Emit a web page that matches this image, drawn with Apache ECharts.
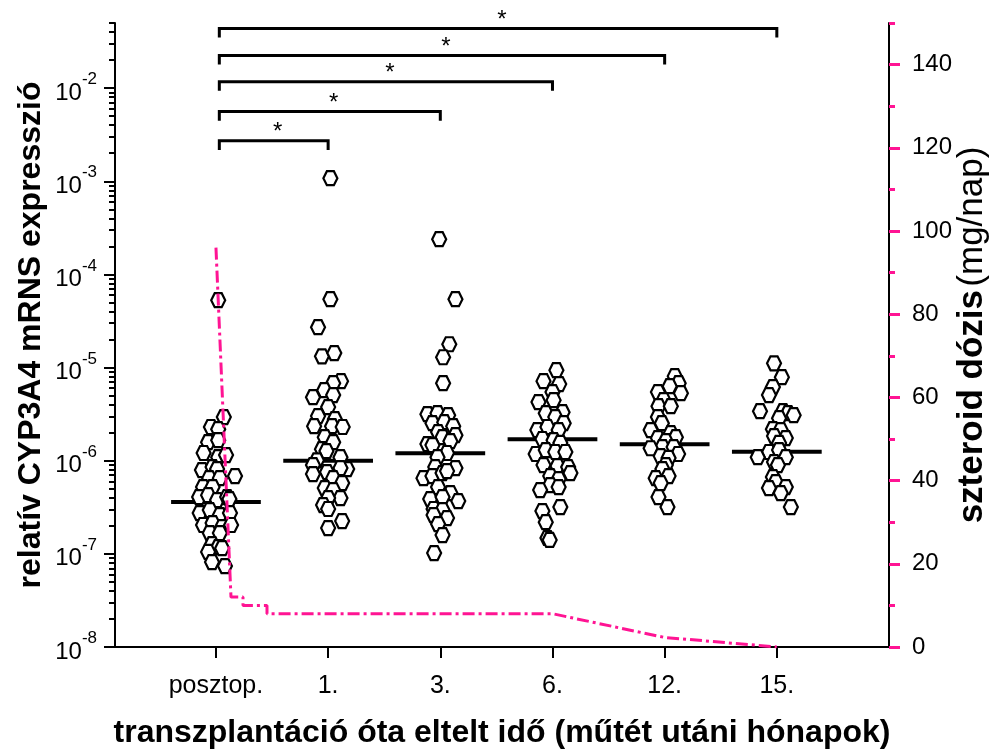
<!DOCTYPE html>
<html>
<head>
<meta charset="utf-8">
<script src="https://cdn.jsdelivr.net/npm/echarts@6/dist/echarts.min.js"></script>
<style>
  html, body { margin: 0; padding: 0; background: #fff; }
  #chart { width: 999px; height: 749px; }
</style>
</head>
<body>
<div id="chart"></div>
<script>
const groups = ['posztop.', '1.', '3.', '6.', '12.', '15.'];
const doseTicks = [0, 20, 40, 60, 80, 100, 120, 140];

// relatív CYP3A4 mRNS expresszió, egyedi mérések csoportonként
const valPosztop = [2.94e-6, 2.30e-6, 2.18e-6, 1.58e-6, 1.66e-6, 1.21e-6, 1.09e-6, 1.15e-6, 7.93e-7, 8.54e-7,
  8.13e-7, 6.84e-7, 6.5e-7, 6.5e-7, 5.21e-7, 5.21e-7, 4.07e-7, 4.27e-7, 3.78e-7, 4.07e-7,
  3.87e-7, 2.74e-7, 2.95e-7, 2.61e-7, 2.74e-7, 2.04e-7, 2.14e-7, 1.94e-7, 2.04e-7, 1.67e-7,
  1.67e-7, 1.27e-7, 1.18e-7, 1.15e-7, 1.05e-7, 8.17e-8, 7.4e-8, 5.29e-5];
const val1 = [1.08e-3, 5.42e-5, 2.71e-5, 1.32e-5, 1.43e-5, 7.15e-6, 6.8e-6, 5.72e-6, 4.81e-6, 5.06e-6,
  3.76e-6, 3.01e-6, 2.79e-6, 2.35e-6, 2.35e-6, 2.3e-6, 1.79e-6, 1.58e-6, 1.33e-6, 1.27e-6,
  1.01e-6, 1.09e-6, 8.97e-7, 8.13e-7, 7.18e-7, 7.55e-7, 8.33e-7, 6.5e-7, 5.75e-7, 5.08e-7,
  4.84e-7, 3.97e-7, 3.97e-7, 3.34e-7, 3.03e-7, 2.25e-7, 1.89e-7];
const val3 = [2.39e-4, 5.42e-5, 1.78e-5, 1.29e-5, 6.8e-6, 3.16e-6, 3.24e-6, 3.08e-6, 2.53e-6, 2.59e-6,
  2.35e-6, 2.03e-6, 1.88e-6, 1.79e-6, 1.51e-6, 1.47e-6, 1.62e-6, 1.21e-6, 1.09e-6, 8.54e-7,
  8.33e-7, 6.5e-7, 6.84e-7, 7.36e-7, 7.73e-7, 5.21e-7, 4.49e-7, 3.87e-7, 3.69e-7, 4.07e-7,
  3.03e-7, 2.95e-7, 2.61e-7, 2.42e-7, 2.09e-7, 1.59e-7, 1.02e-7];
const val6 = [9.38e-6, 7.15e-6, 6.64e-6, 5.45e-6, 4.26e-6, 4.47e-6, 3.32e-6, 3.24e-6, 2.94e-6, 2.53e-6,
  2.13e-6, 2.3e-6, 2.13e-6, 1.71e-6, 1.66e-6, 1.55e-6, 1.18e-6, 1.3e-6, 1.24e-6, 1.24e-6,
  8.97e-7, 8.75e-7, 8.54e-7, 7.36e-7, 6.84e-7, 6.35e-7, 5.47e-7, 4.84e-7, 5.21e-7, 2.88e-7,
  3.18e-7, 2.19e-7, 1.48e-7, 1.41e-7];
const val12 = [8.09e-6, 6.8e-6, 6.31e-6, 5.45e-6, 5.31e-6, 4.47e-6, 3.85e-6, 3.85e-6, 2.94e-6, 2.53e-6,
  2.13e-6, 1.98e-6, 1.79e-6, 1.75e-6, 1.62e-6, 1.4e-6, 1.36e-6, 1.4e-6, 1.18e-6, 1.12e-6,
  1.07e-6, 8.97e-7, 8.13e-7, 6.84e-7, 6.5e-7, 5.75e-7, 4.07e-7, 3.18e-7];
const val15 = [1.11e-5, 7.89e-6, 6.17e-6, 5.06e-6, 3.4e-6, 3.4e-6, 3.24e-6, 3.08e-6, 2.86e-6, 2.18e-6,
  2.13e-6, 1.84e-6, 1.75e-6, 1.55e-6, 1.24e-6, 1.09e-6, 1.3e-6, 1.09e-6, 9.66e-7, 8.97e-7,
  6.67e-7, 5.89e-7, 5.21e-7, 5.08e-7, 4.49e-7, 3.18e-7];

// szórás az x tengely mentén (kategória egységben)
const jitPosztop = [0.07, -0.045, 0.02, -0.07, 0.02, -0.11, 0.02, 0.09, -0.125, -0.03,
  0.01, 0.17, -0.06, 0.035, -0.115, -0.03, -0.15, -0.07, 0.01, 0.1,
  0.12, -0.145, -0.055, 0.035, 0.125, -0.115, -0.03, 0.055, 0.135, -0.055,
  0.035, -0.035, 0.02, 0.055, -0.07, -0.035, 0.08, 0.02];
const jit1 = [0.02, 0.02, -0.09, -0.055, 0.055, 0.115, 0.045, -0.035, -0.135, 0.045,
  0, -0.09, 0.06, -0.125, 0.035, 0.13, -0.03, 0.045, -0.055, -0.015,
  -0.1, 0.11, -0.135, 0.17, -0.135, -0.01, 0.11, 0.045, 0.125, -0.03,
  0.045, 0.11, 0, -0.045, 0, 0.125, 0];
const jit3 = [-0.01, 0.135, 0.08, 0.025, 0.025, -0.115, -0.025, 0.07, -0.07, 0.035,
  0.115, -0.02, 0.135, 0.02, -0.115, -0.07, 0.09, 0.06, -0.025, -0.045,
  0.135, -0.15, -0.07, 0.02, 0.06, -0.02, 0.09, -0.09, 0.16, 0.02,
  -0.06, 0.02, -0.06, 0.06, -0.02, 0.02, -0.055];
const jit6 = [0.035, -0.08, 0.06, 0, -0.125, 0.01, 0.09, -0.06, 0.025, 0.1,
  -0.135, -0.045, 0.055, -0.09, 0.01, 0.07, -0.15, -0.06, 0.025, 0.115,
  -0.08, 0.045, 0.14, 0.16, -0.02, 0.055, -0.02, -0.11, 0.055, -0.09,
  0.07, -0.06, -0.045, -0.025];
const jit12 = [0.09, 0.125, 0.045, -0.06, 0.145, -0.01, -0.055, 0.055, -0.06, -0.025,
  -0.125, 0.055, 0.1, -0.06, 0.01, -0.02, -0.125, 0.08, 0.12, -0.035,
  0.035, 0.01, -0.02, 0.035, -0.08, -0.035, -0.055, 0.025];
const jit15 = [-0.025, 0.045, -0.035, -0.07, -0.15, 0.055, 0.1, 0.15, 0.02, -0.035,
  0.035, -0.025, 0.08, 0.02, -0.07, -0.17, 0.02, 0.08, -0.025, 0.01,
  -0.035, -0.01, 0.08, -0.07, 0.035, 0.125];

const medians = [3.6e-7, 1.0e-6, 1.2e-6, 1.7e-6, 1.5e-6, 1.25e-6];

// szteroid dózis (mg/nap)
const doseX = [0, 0.134, 0.134, 0.241, 0.241, 0.455, 0.455, 3, 4, 5];
const doseY = [96, 12, 12, 12, 10, 10, 8, 8, 2.3, 0];

// szignifikancia: posztop. vs. csoport
const sigEnds = [1, 2, 3, 4, 5];
const sigMarks = ['*', '*', '*', '*', '*'];

const FONT = "'Liberation Sans', Arial, sans-serif";
const PINK = '#ff1493';
const hexagon = 'path://M25,0 L75,0 L100,50 L75,100 L25,100 L0,50 Z';

const allVals = [valPosztop, val1, val3, val6, val12, val15];
const allJit = [jitPosztop, jit1, jit3, jit6, jit12, jit15];
const points = [];
allVals.forEach((vals, g) => {
  vals.forEach((v, k) => points.push([g + allJit[g][k], v]));
});

const majorLog = [];
const minorLog = [];
for (let e = -8; e <= -2; e++) {
  majorLog.push(Math.pow(10, e));
  for (let m = 2; m <= 9; m++) {
    const v = m * Math.pow(10, e);
    if (v <= 0.0501) minorLog.push(v);
  }
}
const minorDose = [10, 30, 50, 70, 90, 110, 130, 150];

const bracketLevels = [121.7, 128.7, 135.9, 142.2, 148.7];
const legDrop = 2.2;

const chartDom = document.getElementById('chart');
const myChart = echarts.init(chartDom);

const option = {
  animation: false,
  backgroundColor: '#fff',
  textStyle: { fontFamily: FONT },
  grid: { left: 115, right: 110, top: 23, bottom: 102, containLabel: false, outerBoundsMode: 'none' },
  xAxis: {
    type: 'value',
    min: -0.9,
    max: 6,
    splitLine: { show: false },
    axisLine: { show: true, onZero: false, lineStyle: { color: '#000', width: 2 } },
    axisTick: { show: true, customValues: [0, 1, 2, 3, 4, 5], length: 11, inside: false, lineStyle: { color: '#000', width: 2 } },
    axisLabel: {
      customValues: [0, 1, 2, 3, 4, 5],
      formatter: v => groups[Math.round(v)] || '',
      fontSize: 25, color: '#000', fontFamily: FONT, margin: 27
    },
    name: 'transzplantáció óta eltelt idő (műtét utáni hónapok)',
    nameLocation: 'middle',
    nameGap: 70,
    nameTextStyle: { fontSize: 32, fontWeight: 'bold', color: '#000', fontFamily: FONT }
  },
  yAxis: [
    {
      type: 'log',
      min: 1e-8,
      max: 0.05,
      position: 'left',
      splitLine: { show: false },
      axisLine: { show: true, onZero: false, lineStyle: { color: '#000', width: 2 } },
      axisTick: { show: true, customValues: majorLog, length: 11, lineStyle: { color: '#000', width: 2 } },
      axisLabel: {
        customValues: majorLog,
        margin: 18,
        formatter: v => '{b|10}{s|' + Math.round(Math.log10(v)) + '}',
        rich: {
          b: { fontSize: 24, color: '#000', fontFamily: FONT, lineHeight: 34, verticalAlign: 'bottom' },
          s: { fontSize: 17, color: '#000', fontFamily: FONT, lineHeight: 34, verticalAlign: 'top' }
        }
      },
      name: 'relatív CYP3A4 mRNS expresszió',
      nameLocation: 'middle',
      nameRotate: 90,
      nameGap: 68,
      nameMoveOverlap: false,
      nameTextStyle: { fontSize: 32, fontWeight: 'bold', color: '#000', fontFamily: FONT }
    },
    {
      type: 'value',
      min: 0,
      max: 150,
      position: 'right',
      splitLine: { show: false },
      axisLine: { show: true, onZero: false, lineStyle: { color: '#000', width: 2 } },
      axisTick: { show: true, customValues: doseTicks, length: 11, lineStyle: { color: PINK, width: 3 } },
      axisLabel: { customValues: doseTicks, margin: 23, fontSize: 24, color: '#000', fontFamily: FONT },
      name: '{b|szteroid dózis} {n|(mg/nap)}',
      nameLocation: 'middle',
      nameRotate: 90,
      nameGap: 66,
      nameMoveOverlap: false,
      nameTextStyle: {
        rich: {
          b: { fontSize: 35, fontWeight: 'bold', color: '#000', fontFamily: FONT },
          n: { fontSize: 35, color: '#000', fontFamily: FONT }
        }
      }
    },
    {
      type: 'log',
      min: 1e-8,
      max: 0.05,
      position: 'left',
      splitLine: { show: false },
      axisLine: { show: false, onZero: false },
      axisTick: { show: true, customValues: minorLog, length: 6, lineStyle: { color: '#000', width: 2 } },
      axisLabel: { show: false }
    },
    {
      type: 'value',
      min: 0,
      max: 150,
      position: 'right',
      splitLine: { show: false },
      axisLine: { show: false, onZero: false },
      axisTick: { show: true, customValues: minorDose, length: 6, lineStyle: { color: PINK, width: 3 } },
      axisLabel: { show: false }
    }
  ],
  series: [
    {
      name: 'medián',
      type: 'custom',
      xAxisIndex: 0,
      yAxisIndex: 0,
      z: 2,
      data: medians.map((m, i) => [i, m]),
      renderItem: (params, api) => {
        const i = api.value(0);
        const m = api.value(1);
        const p0 = api.coord([i - 0.4, m]);
        const p1 = api.coord([i + 0.4, m]);
        return {
          type: 'line',
          shape: { x1: p0[0], y1: p0[1], x2: p1[0], y2: p1[1] },
          style: { stroke: '#000', lineWidth: 4 }
        };
      }
    },
    {
      name: 'CYP3A4',
      type: 'scatter',
      xAxisIndex: 0,
      yAxisIndex: 0,
      z: 3,
      symbol: hexagon,
      symbolSize: 14,
      itemStyle: { color: '#fff', borderColor: '#000', borderWidth: 2.2, opacity: 1 },
      data: points
    },
    {
      name: 'szteroid dózis',
      type: 'line',
      xAxisIndex: 0,
      yAxisIndex: 1,
      z: 4,
      symbol: 'none',
      lineStyle: { color: PINK, width: 3, type: [12, 4, 3, 4] },
      data: doseX.map((x, i) => [x, doseY[i]])
    },
    {
      name: 'szignifikancia',
      type: 'custom',
      xAxisIndex: 0,
      yAxisIndex: 1,
      z: 5,
      data: sigEnds.map((e, i) => [e, i]),
      renderItem: (params, api) => {
        const end = api.value(0);
        const i = api.value(1);
        const lvl = bracketLevels[i];
        const a = api.coord([0.03, lvl - legDrop]);
        const b = api.coord([0.03, lvl]);
        const c = api.coord([end, lvl]);
        const d = api.coord([end, lvl - legDrop]);
        const mid = api.coord([end / 2 + 0.05, lvl]);
        return {
          type: 'group',
          children: [
            {
              type: 'polyline',
              shape: { points: [a, b, c, d] },
              style: { stroke: '#000', lineWidth: 3, fill: null }
            },
            {
              type: 'text',
              x: mid[0],
              y: mid[1] - 8,
              style: {
                text: sigMarks[i], fontSize: 24, fontFamily: FONT, fill: '#000',
                align: 'center', verticalAlign: 'middle'
              }
            }
          ]
        };
      }
    }
  ]
};

myChart.setOption(option);
</script>
</body>
</html>
